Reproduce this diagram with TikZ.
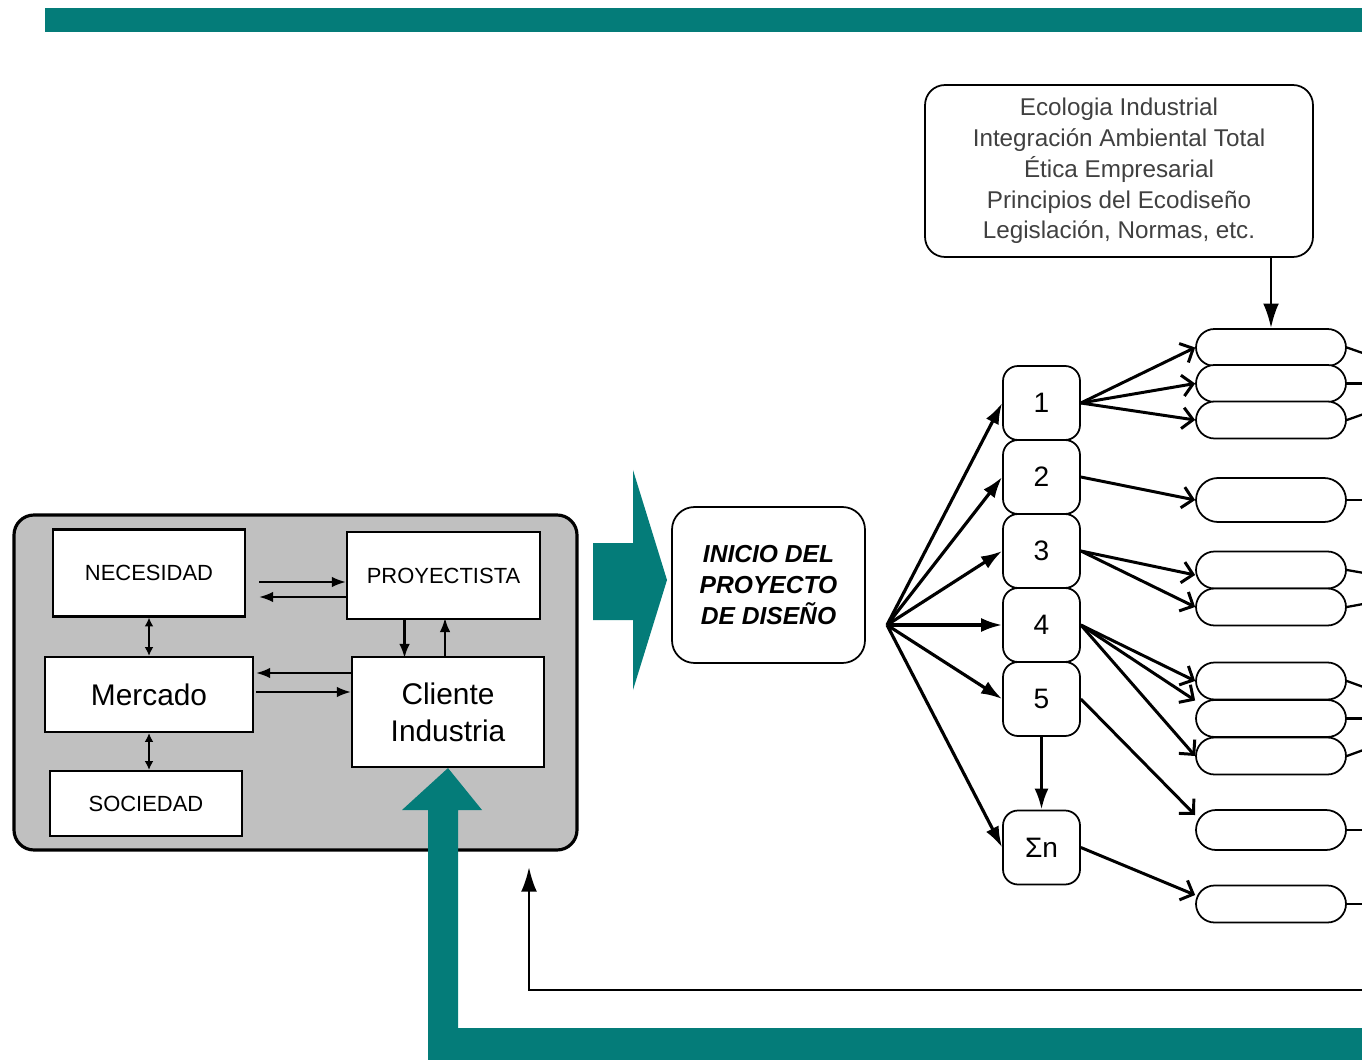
\documentclass[tikz,border=0pt]{standalone}
\usepackage{fontspec}
\setmainfont{Liberation Sans}
\usetikzlibrary{arrows.meta, positioning, calc, shapes.misc}
\definecolor{Teal_Band}{RGB}{4,124,121}
\definecolor{Panel_Grey}{RGB}{192,192,192}

\begin{document}
\begin{tikzpicture}[
    x=0.02cm, y=-0.02cm,
    >=Stealth,
    box/.style={draw=black, line width=1.2pt, fill=white, minimum width=3.84cm,
        minimum height=1.74cm, inner sep=0pt, font=\fontsize{12.5}{15}\selectfont},
    bigbox/.style={box, align=center, font=\fontsize{17}{21}\selectfont},
    num/.style={draw=black, line width=1pt, rounded corners=0.3cm, fill=white,
        minimum width=1.54cm, minimum height=1.48cm, inner sep=0pt,
        font=\fontsize{16}{19}\selectfont},
    pill/.style={draw=black, line width=1pt, rounded rectangle, fill=white,
        minimum width=3cm, minimum height=0.74cm, inner sep=0pt},
    small/.style={line width=1.3pt, -{Latex[length=8pt,width=6pt]}},
    dbl/.style={line width=1.3pt, {Latex[length=5pt,width=5pt]}-{Latex[length=5pt,width=5pt]}},
    fan/.style={line width=1.8pt, -{Latex[length=12pt,width=8pt]}},
    outarr/.style={line width=1.7pt, -{Straight Barb[length=6pt,width=12pt]}},
    big/.style={line width=1.5pt, -{Latex[length=14pt,width=9pt]}}
]
\useasboundingbox (0,0) rectangle (1362,1060);
\clip (0,0) rectangle (1362,1060);

% bands
\fill[Teal_Band] (45,8) rectangle (1362,32);

% left panel
\draw[line width=1.8pt, fill=Panel_Grey, rounded corners=0.4cm] (14,515) rectangle (577,850);
\node[box] (nec) at (149,573) {NECESIDAD};
\node[box, minimum width=3.86cm] (proy) at (443.5,575.5) {PROYECTISTA};
\node[bigbox, minimum width=4.16cm, minimum height=1.5cm] (merc) at (149,694.5) {Mercado};
\node[bigbox, minimum height=2.2cm] (cli) at (448,712) {Cliente\\Industria};
\node[box, minimum height=1.3cm] (soc) at (146,803.5) {SOCIEDAD};

\draw[small] ($(nec.east)+(0.26cm,-0.18cm)$) -- ($(nec.east -| proy.west)+(0,-0.18cm)$);
\draw[small] ($(nec.east -| proy.west)+(0,-0.48cm)$) -- ($(nec.east)+(0.26cm,-0.48cm)$);
\draw[small] ($(merc.east -| cli.west)+(0,0.43cm)$) -- ($(merc.east)+(0.04cm,0.43cm)$);
\draw[small] ($(merc.east)+(0.04cm,0.05cm)$) -- ($(merc.east -| cli.west)+(0,0.05cm)$);
\draw[small] ([xshift=-0.78cm]proy.south) -- ++(0,38);
\draw[small] ([xshift=-0.06cm]cli.north) -- ++(0,-38);
\draw[dbl] (nec.south) -- (nec.south |- merc.north);
\draw[dbl] (merc.south) -- (merc.south |- soc.north);

% teal arrows
\fill[Teal_Band] (1362,1028) -- (458,1028) -- (458,810) -- (482,810) -- (cli.south)
    -- (402,810) -- (428,810) -- (428,1060) -- (1362,1060) -- cycle;
\fill[Teal_Band] (593,543) -- (633,543) -- (633,470) -- (667,580) -- (633,690)
    -- (633,620) -- (593,620) -- cycle;

% start of project
\node[draw, line width=1pt, rounded corners=0.45cm, minimum width=3.86cm, minimum height=3.12cm,
    align=center, font=\fontsize{14}{17.6}\selectfont\bfseries\itshape] (inicio) at (768.5,585)
    {INICIO DEL\\PROYECTO\\DE DISEÑO};
\coordinate (hub) at (887,625);

\node[draw, line width=1pt, rounded corners=0.4cm, minimum width=7.76cm, minimum height=3.44cm,
    align=center, text=black!75, font=\fontsize{13.8}{17.5}\selectfont] (eco) at (1119,171)
    {Ecologia Industrial\\Integración Ambiental Total\\Ética Empresarial\\Principios del Ecodiseño\\Legislación, Normas, etc.};

% numbered stages
\foreach \i in {1,...,5}
    \node[num] (n\i) at (1041.5,{329+74*\i}) {\i};
\node[num] (sn) at (1041.5,847.5) {Σn};

% outcomes
\foreach \name/\yy in {a/347.5, b/383.5, c/420, e/570, f/607, g/681, h/718.5, i/756, k/904}
    \node[pill] (\name) at (1271,\yy) {};
\node[pill, minimum height=0.88cm] (d) at (1271,500) {};
\node[pill, minimum height=0.8cm] (j) at (1271,830) {};

\draw[big] (eco.south -| a.north) -- (a.north);

\foreach \t in {n1,n2,n3,n4,n5,sn}
    \draw[fan] (hub) -- (\t.west);
\draw[fan] (n5.south) -- (sn.north);

% stage -> outcome
\draw[outarr] (n1.east) -- (a.west);
\draw[outarr] (n1.east) -- (b.west);
\draw[outarr] (n1.east) -- (c.west);
\draw[outarr] (n2.east) -- (d.west);
\draw[outarr] (n3.east) -- ([yshift=-0.1cm]e.west);
\draw[outarr] (n3.east) -- (f.west);
\draw[outarr] (n4.east) -- (g.west);
\draw[outarr] (n4.east) -- ([yshift=0.36cm]h.west);
\draw[outarr] (n4.east) -- (i.west);
\draw[outarr] (n5.east) -- ([yshift=0.3cm]j.west);
\draw[outarr] (sn.east) -- ([yshift=0.18cm]k.west);

% leaving to the right
\coordinate (r1) at (1450,383.5);
\coordinate (r2) at (1450,500);
\coordinate (r3) at (1450,588);
\coordinate (r4) at (1450,718.5);
\coordinate (r5) at (1450,830);
\coordinate (r6) at (1450,904);
\foreach \p/\r in {a/r1, b/r1, c/r1, d/r2, e/r3, f/r3, g/r4, h/r4, i/r4, j/r5, k/r6}
    \draw[line width=1.3pt] (\p.east) -- (\r);

% feedback
\coordinate (fbin) at (1362,990);
\coordinate (fbtip) at (529,867);
\draw[big] (fbin) -| (fbtip);

\end{tikzpicture}
\end{document}
